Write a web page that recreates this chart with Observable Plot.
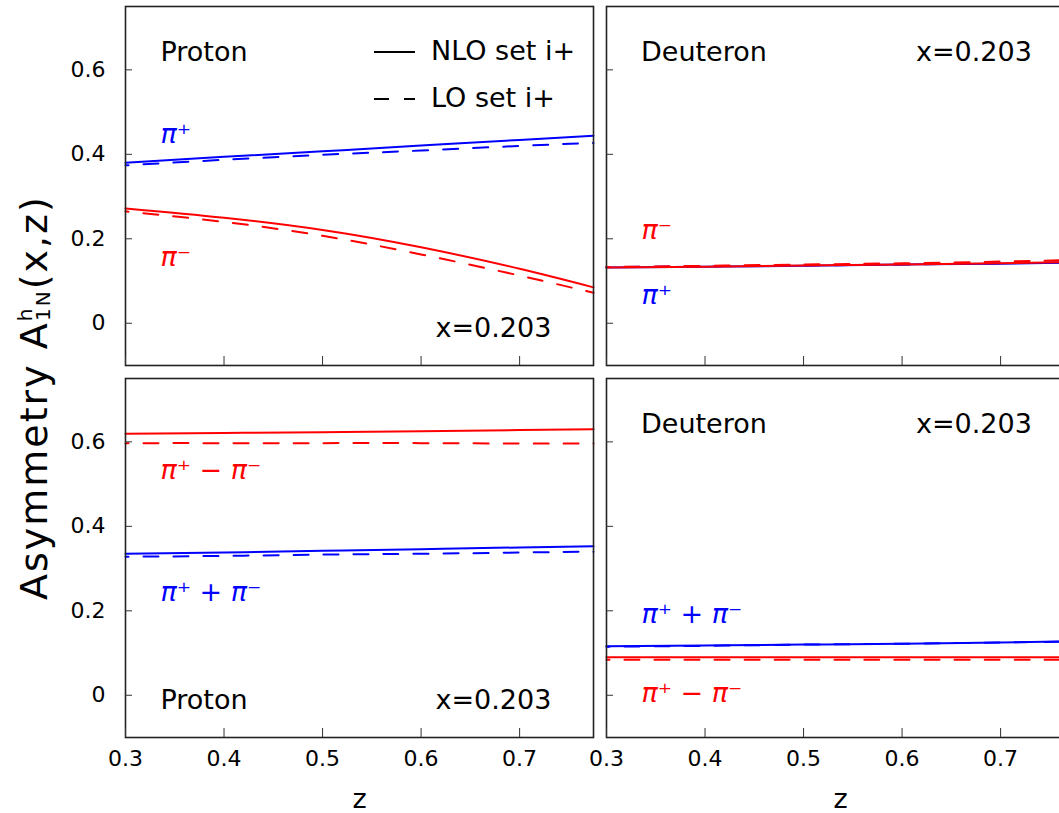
<!DOCTYPE html>
<html><head><meta charset="utf-8">
<script src="https://cdn.jsdelivr.net/npm/d3@7"></script>
<script src="https://cdn.jsdelivr.net/npm/@observablehq/plot@0.6"></script>
<style>
body{margin:0;overflow:hidden;background:#fff;font-family:"DejaVu Sans",sans-serif}
#wrap{position:relative;width:1059px;height:813px;overflow:hidden;background:#fff}
#wrap svg{position:absolute;left:0;top:0;max-width:none !important;height:813px !important}
</style></head><body><div id="wrap"></div>
<script>
// ---- data ----
const zValues = [0.3, 0.4, 0.5, 0.6, 0.7, 0.775];
const xTicks = [0.3, 0.4, 0.5, 0.6, 0.7];
const yTicks = [0, 0.2, 0.4, 0.6];
const targets = ["Proton", "Deuteron"];
const rows = ["single", "combo"];
const xLabel = "z";
const kinematics = "x=0.203";
const legendLabels = ["NLO set i+", "LO set i+"];

// Proton, single hadrons
const protonPiPlusNLO  = [0.380, 0.394, 0.407, 0.421, 0.434, 0.444];
const protonPiPlusLO   = [0.374, 0.387, 0.399, 0.409, 0.420, 0.427];
const protonPiMinusNLO = [0.272, 0.250, 0.221, 0.180, 0.129, 0.085];
const protonPiMinusLO  = [0.265, 0.240, 0.207, 0.163, 0.113, 0.072];
// Deuteron, single hadrons
const deutPiPlusNLO  = [0.132, 0.134, 0.136, 0.139, 0.141, 0.144];
const deutPiPlusLO   = [0.133, 0.135, 0.137, 0.139, 0.142, 0.144];
const deutPiMinusNLO = [0.132, 0.134, 0.137, 0.139, 0.142, 0.145];
const deutPiMinusLO  = [0.133, 0.136, 0.139, 0.142, 0.146, 0.150];
// Proton, combinations
const protonDiffNLO = [0.619, 0.621, 0.623, 0.625, 0.628, 0.630];
const protonDiffLO  = [0.597, 0.597, 0.597, 0.597, 0.596, 0.596];
const protonSumNLO  = [0.335, 0.338, 0.342, 0.346, 0.350, 0.353];
const protonSumLO   = [0.328, 0.330, 0.333, 0.335, 0.338, 0.340];
// Deuteron, combinations
const deutSumNLO  = [0.116, 0.118, 0.120, 0.122, 0.125, 0.128];
const deutSumLO   = [0.115, 0.117, 0.120, 0.122, 0.125, 0.127];
const deutDiffNLO = [0.090, 0.090, 0.090, 0.090, 0.090, 0.090];
const deutDiffLO  = [0.084, 0.084, 0.084, 0.084, 0.084, 0.084];

const RED = "#ff0000", BLUE = "#0000ff";

// ---- table ----
const data = [];
function addSeries(target, row, key, color, order, values) {
  zValues.forEach((z, i) => data.push({target, row, key: target + row + key + order, color, order, z, value: values[i]}));
}
addSeries("Proton", "single", "pip", BLUE, "NLO", protonPiPlusNLO);
addSeries("Proton", "single", "pip", BLUE, "LO", protonPiPlusLO);
addSeries("Proton", "single", "pim", RED, "NLO", protonPiMinusNLO);
addSeries("Proton", "single", "pim", RED, "LO", protonPiMinusLO);
addSeries("Deuteron", "single", "pip", BLUE, "NLO", deutPiPlusNLO);
addSeries("Deuteron", "single", "pip", BLUE, "LO", deutPiPlusLO);
addSeries("Deuteron", "single", "pim", RED, "NLO", deutPiMinusNLO);
addSeries("Deuteron", "single", "pim", RED, "LO", deutPiMinusLO);
addSeries("Proton", "combo", "diff", RED, "NLO", protonDiffNLO);
addSeries("Proton", "combo", "diff", RED, "LO", protonDiffLO);
addSeries("Proton", "combo", "sum", BLUE, "NLO", protonSumNLO);
addSeries("Proton", "combo", "sum", BLUE, "LO", protonSumLO);
addSeries("Deuteron", "combo", "sum", BLUE, "NLO", deutSumNLO);
addSeries("Deuteron", "combo", "sum", BLUE, "LO", deutSumLO);
addSeries("Deuteron", "combo", "diff", RED, "NLO", deutDiffNLO);
addSeries("Deuteron", "combo", "diff", RED, "LO", deutDiffLO);

const pick = (color, order) => data.filter(d => d.color === color && d.order === order);
const lineOpts = {x: "z", y: "value", z: "key", stroke: "color", strokeWidth: 2, curve: "natural", fx: "target", fy: "row"};
const dashOpts = {...lineOpts, strokeDasharray: "15,15", strokeDashoffset: 12};

function label(text, target, row, color, dx, dy, extra = {}) {
  return Plot.text([{target, row}], {
    fx: "target", fy: "row", text: () => text, frameAnchor: "top-left",
    textAnchor: "start", lineAnchor: "bottom", dx, dy, fill: color,
    fontSize: 27, ...extra
  });
}
const PI = {fontStyle: "italic"};

const chart = Plot.plot({
  width: 1075, height: 813,
  marginLeft: 125, marginRight: 1, marginTop: 6, marginBottom: 76,
  style: {fontFamily: '"DejaVu Sans", sans-serif', background: "white", color: "black", overflow: "visible", maxWidth: "none"},
  x: {domain: [0.3, 0.775]},
  y: {domain: [-0.1, 0.75]},
  fx: {domain: targets, axis: null, paddingInner: 0.027, paddingOuter: 0, round: false},
  fy: {domain: rows, axis: null, paddingInner: 0.035, paddingOuter: 0, round: false},
  marks: [
    Plot.line(pick(BLUE, "NLO"), lineOpts),
    Plot.line(pick(BLUE, "LO"), dashOpts),
    Plot.line(pick(RED, "NLO"), lineOpts),
    Plot.line(pick(RED, "LO"), dashOpts),
    Plot.frame({stroke: "#222", strokeWidth: 1.6}),
    // inward ticks in every panel
    Plot.axisY(yTicks, {anchor: "left", facetAnchor: null, tickSize: 7, dx: 7, fill: "none", stroke: "#333", label: null}),
    Plot.axisX(xTicks, {anchor: "bottom", facetAnchor: null, tickSize: 9, dy: -9, fill: "none", stroke: "#333", label: null}),
    // tick labels
    Plot.axisY(yTicks, {anchor: "left", tickSize: 0, tickPadding: 20, tickFormat: d3.format("~g"), fontSize: 22, label: null}),
    Plot.axisX(xTicks, {anchor: "bottom", tickSize: 0, tickPadding: 13, tickFormat: d3.format("~g"), fontSize: 22, label: null}),
    // x label per bottom panel
    Plot.text(targets.map(t => ({target: t, row: "combo"})), {
      fx: "target", fy: "row", text: () => xLabel, frameAnchor: "bottom",
      lineAnchor: "middle", dy: 62, fontSize: 27, fill: "black"
    }),
    // annotations
    label("Proton", "Proton", "single", "black", 35, 54),
    label(kinematics, "Proton", "single", "black", 310, 330.5),
    label("π⁺", "Proton", "single", BLUE, 35, 136, PI),
    label("π⁻", "Proton", "single", RED, 35, 259, PI),
    label("Deuteron", "Deuteron", "single", "black", 34.5, 54),
    label(kinematics, "Deuteron", "single", "black", 309.5, 54),
    label("π⁻", "Deuteron", "single", RED, 35, 232.5, PI),
    label("π⁺", "Deuteron", "single", BLUE, 35, 297.5, PI),
    label("π⁺ − π⁻", "Proton", "combo", RED, 35, 100.5, PI),
    label("π⁺ + π⁻", "Proton", "combo", BLUE, 35, 222, PI),
    label("Proton", "Proton", "combo", "black", 35, 330.5),
    label(kinematics, "Proton", "combo", "black", 310, 330.5),
    label("Deuteron", "Deuteron", "combo", "black", 34.5, 54),
    label(kinematics, "Deuteron", "combo", "black", 309.5, 54),
    label("π⁺ + π⁻", "Deuteron", "combo", BLUE, 35, 244, PI),
    label("π⁺ − π⁻", "Deuteron", "combo", RED, 35, 323, PI)
  ]
});
const wrap = document.getElementById("wrap");
wrap.appendChild(chart);

// ---- overlay: legend and y-axis title ----
const ov = d3.select(wrap).append("svg").attr("width", 1059).attr("height", 813)
  .style("pointer-events", "none").style("font-family", '"DejaVu Sans", sans-serif');
const leg = ov.append("g");
leg.append("line").attr("x1", 374).attr("x2", 415).attr("y1", 52).attr("y2", 52)
  .attr("stroke", "black").attr("stroke-width", 2);
leg.append("line").attr("x1", 374).attr("x2", 415).attr("y1", 99).attr("y2", 99)
  .attr("stroke", "black").attr("stroke-width", 2).attr("stroke-dasharray", "15,15");
leg.append("text").attr("x", 431).attr("y", 60).attr("font-size", 27).text(legendLabels[0]);
leg.append("text").attr("x", 431).attr("y", 107).attr("font-size", 27).text(legendLabels[1]);

const yt = ov.append("g").attr("transform", "translate(47,600) rotate(-90)")
  .append("text").attr("font-size", 38).attr("letter-spacing", 2).attr("fill", "black");
yt.append("tspan").text("Asymmetry A");
yt.append("tspan").attr("font-size", 20).attr("dy", -15).text("h");
yt.append("tspan").attr("font-size", 20).attr("dx", -14.5).attr("dy", 18).text("1N");
yt.append("tspan").attr("font-size", 38).attr("dy", -3).text("(x,z)");
</script>
</body></html>
